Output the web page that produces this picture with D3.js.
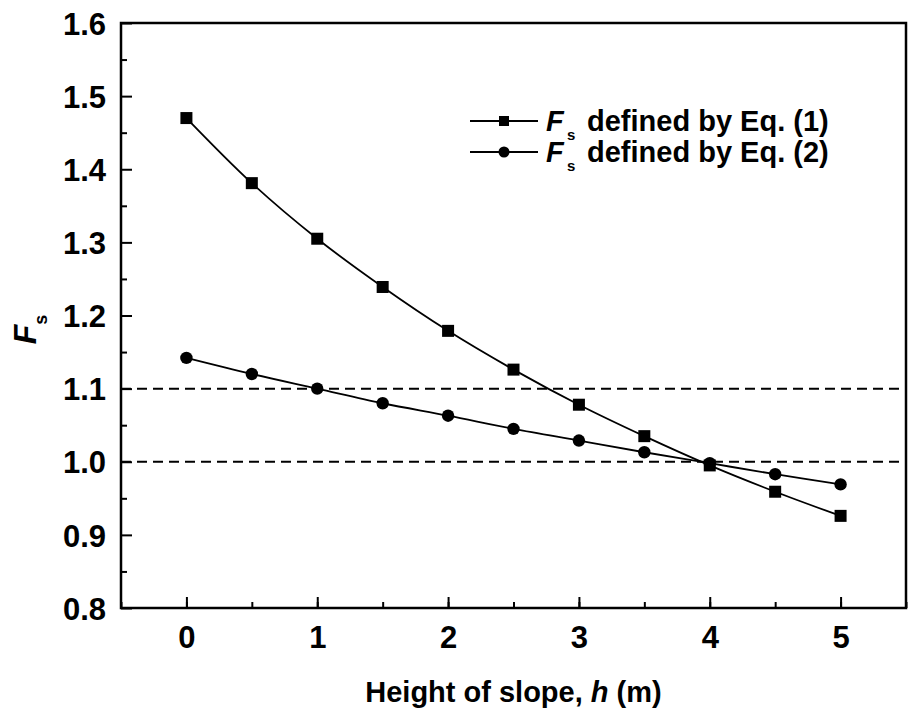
<!DOCTYPE html>
<html>
<head>
<meta charset="utf-8">
<script src="https://cdn.jsdelivr.net/npm/d3@7"></script>
<style>
  body { margin: 0; background: #fff; }
  text { font-family: "Liberation Sans", Arial, sans-serif; font-weight: bold; }
</style>
</head>
<body>
<svg id="chart" width="908" height="719"></svg>
<script>
// data
const heights = [0, 0.5, 1, 1.5, 2, 2.5, 3, 3.5, 4, 4.5, 5]
const fsEq1 = [1.470, 1.381, 1.305, 1.239, 1.179, 1.126, 1.078, 1.035, 0.995, 0.959, 0.926]
const fsEq2 = [1.142, 1.120, 1.100, 1.080, 1.063, 1.045, 1.029, 1.013, 0.998, 0.983, 0.969]
const xTicks = [0, 1, 2, 3, 4, 5]
const yTicks = [0.8, 0.9, 1.0, 1.1, 1.2, 1.3, 1.4, 1.5, 1.6]
const refLines = [1.0, 1.1]
const legendLabels = ["defined by Eq. (1)", "defined by Eq. (2)"]

const plotLeft = 121, plotTop = 23, plotRight = 906, plotBottom = 608

const svg = d3.select("#chart")

const x = d3.scaleLinear().domain([-0.5, 5.5]).range([plotLeft, plotRight])
const y = d3.scaleLinear().domain([0.8, 1.6]).range([plotBottom, plotTop])

// dashed reference lines
svg.selectAll(".ref")
    .data(refLines)
    .join("line")
    .attr("x1", plotLeft).attr("x2", plotRight)
    .attr("y1", d => y(d)).attr("y2", d => y(d))
    .attr("stroke", "#000")
    .attr("stroke-width", 2)
    .attr("stroke-dasharray", "10,6")

// minor ticks
const xMinor = d3.axisBottom(x).tickValues(d3.range(-0.5, 5.51, 0.5)).tickSize(-6).tickFormat("")
const yMinor = d3.axisLeft(y).tickValues(d3.range(0.85, 1.6, 0.1)).tickSize(-6).tickFormat("")
svg.append("g").attr("transform", `translate(0,${plotBottom})`).call(xMinor)
svg.append("g").attr("transform", `translate(${plotLeft},0)`).call(yMinor)

// major ticks + labels
const xAxis = svg.append("g")
    .attr("transform", `translate(0,${plotBottom})`)
    .call(d3.axisBottom(x).tickValues(xTicks).tickSize(-11).tickFormat(d3.format("d")))
xAxis.selectAll("text").attr("y", 40).attr("dy", 0)

const yAxis = svg.append("g")
    .attr("transform", `translate(${plotLeft},0)`)
    .call(d3.axisLeft(y).tickValues(yTicks).tickSize(-11).tickFormat(d3.format(".1f")))
yAxis.selectAll("text").attr("x", -15).attr("dy", "0.36em")

svg.selectAll(".domain").remove()
svg.selectAll(".tick line").attr("stroke", "#000").attr("stroke-width", 2)
svg.selectAll(".tick text")
    .attr("fill", "#000")
    .style("font-size", "31px")
    .style("font-family", "'Liberation Sans', Arial, sans-serif")
    .style("font-weight", "bold")

// frame
svg.append("rect")
    .attr("x", plotLeft).attr("y", plotTop)
    .attr("width", plotRight - plotLeft).attr("height", plotBottom - plotTop)
    .attr("fill", "none")
    .attr("stroke", "#000")
    .attr("stroke-width", 2.5)

// series lines
const line = d3.line()
    .x((d, i) => x(heights[i]))
    .y(d => y(d))
    .curve(d3.curveCatmullRom)

svg.append("path").datum(fsEq1).attr("d", line)
    .attr("fill", "none").attr("stroke", "#000").attr("stroke-width", 1.8)
svg.append("path").datum(fsEq2).attr("d", line)
    .attr("fill", "none").attr("stroke", "#000").attr("stroke-width", 1.8)

const sq = 12
svg.selectAll(".sq")
    .data(fsEq1)
    .join("rect")
    .attr("x", (d, i) => x(heights[i]) - sq / 2)
    .attr("y", d => y(d) - sq / 2)
    .attr("width", sq).attr("height", sq)
    .attr("fill", "#000")

svg.selectAll(".dot")
    .data(fsEq2)
    .join("circle")
    .attr("cx", (d, i) => x(heights[i]))
    .attr("cy", d => y(d))
    .attr("r", 6.2)
    .attr("fill", "#000")

// legend
const legend = svg.append("g")
legendLabels.forEach((label, i) => {
    const ly = 121 + i * 31
    legend.append("line")
        .attr("x1", 470).attr("x2", 538)
        .attr("y1", ly).attr("y2", ly)
        .attr("stroke", "#000").attr("stroke-width", 1.8)
    if (i === 0) {
        legend.append("rect")
            .attr("x", 504 - 5).attr("y", ly - 5)
            .attr("width", 10).attr("height", 10)
            .attr("fill", "#000")
    } else {
        legend.append("circle")
            .attr("cx", 504).attr("cy", ly).attr("r", 5.5)
            .attr("fill", "#000")
    }
    legend.append("text")
        .attr("x", 546).attr("y", ly + 10)
        .style("font-size", "29px")
        .style("font-style", "italic")
        .text("F")
    legend.append("text")
        .attr("x", 567).attr("y", ly + 19)
        .style("font-size", "15px")
        .text("s")
    legend.append("text")
        .attr("x", 587).attr("y", ly + 10)
        .style("font-size", "29px")
        .text(label)
})

// axis titles
const xt = svg.append("text")
    .attr("x", (plotLeft + plotRight) / 2).attr("y", 702)
    .attr("text-anchor", "middle")
    .style("font-size", "29px")
xt.append("tspan").text("Height of slope, ")
xt.append("tspan").text("h").style("font-style", "italic")
xt.append("tspan").text(" (m)")

const yt = svg.append("text")
    .attr("transform", `translate(36,${(plotTop + plotBottom) / 2 + 14}) rotate(-90)`)
    .attr("text-anchor", "middle")
    .style("font-size", "32px")
yt.append("tspan").text("F").style("font-style", "italic")
yt.append("tspan").text("s").attr("dy", 11).style("font-size", "18px")
</script>
</body>
</html>
